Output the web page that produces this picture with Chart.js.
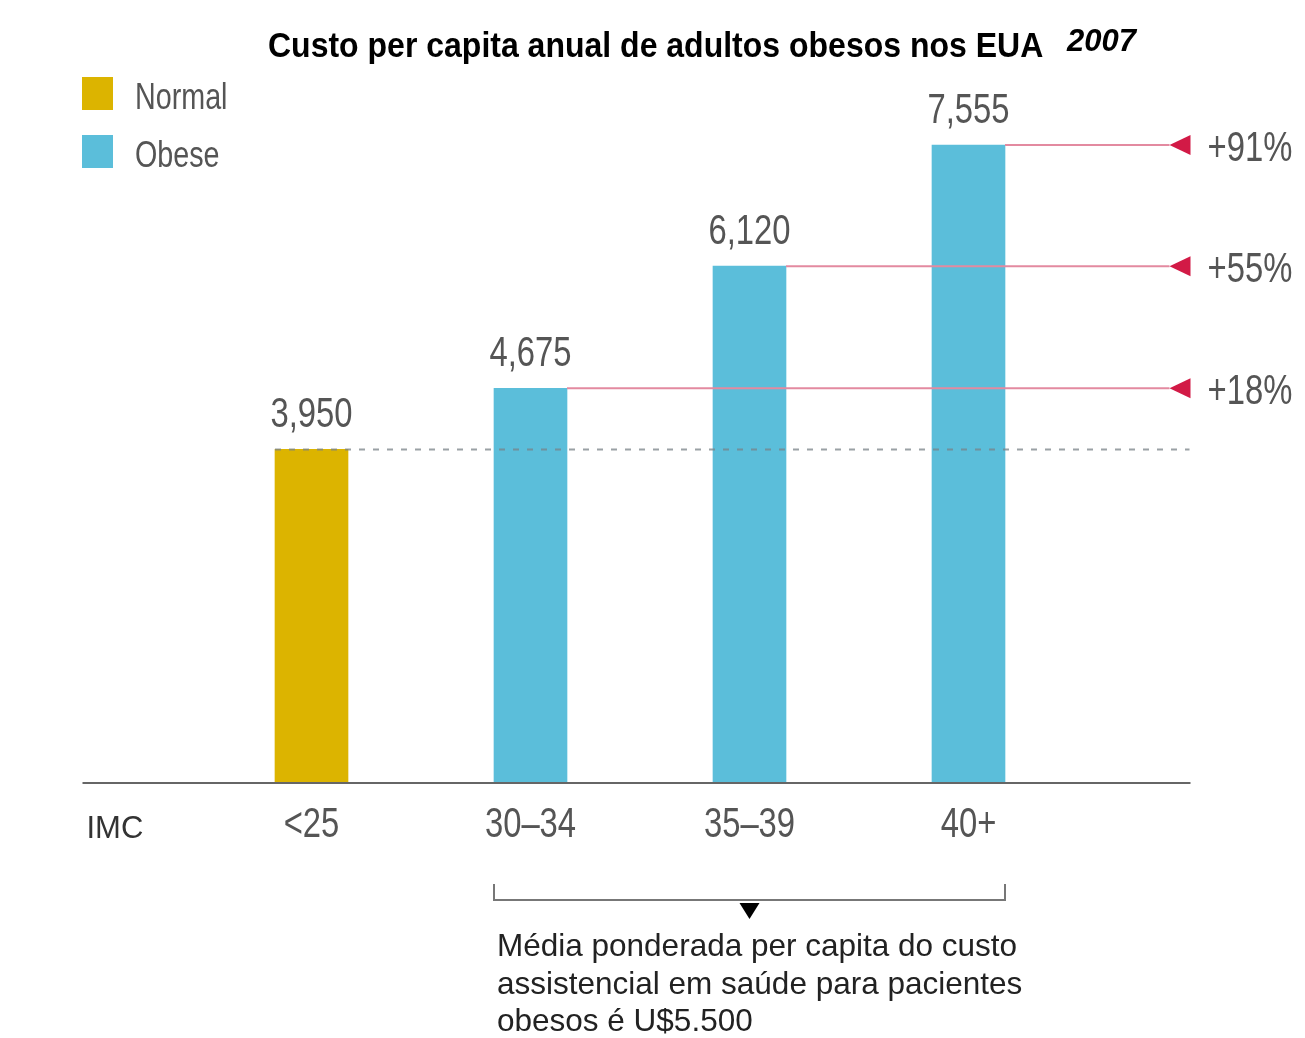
<!DOCTYPE html>
<html>
<head>
<meta charset="utf-8">
<script src="https://cdn.jsdelivr.net/npm/chart.js@4.4.1/dist/chart.umd.min.js"></script>
<style>
  html, body { margin: 0; padding: 0; background: #fff; }
</style>
</head>
<body>
<canvas id="custoChart" width="1305" height="1038"></canvas>
<script>
// Dados
const categorias = ["IMC", "<25", "30–34", "35–39", "40+", ""];
const custoNormal = [null, 3950, null, null, null, null];
const custoObeso = [null, null, 4675, 6120, 7555, null];
const legendas = ["Normal", "Obese"];
const titulo = "Custo per capita anual de adultos obesos nos EUA";
const ano = "2007";
const notaMedia = [
  "Média ponderada per capita do custo",
  "assistencial em saúde para pacientes",
  "obesos é U$5.500"
];

const corNormal = "#DCB400";
const corObeso = "#5BBEDA";
const fonte = '"Liberation Sans", Arial, sans-serif';
// fonte "condensada": Liberation Sans comprimida na horizontal
const COND_X = 0.82;
const COND_Y = 1.05;

function formatar(v) {
  return v.toLocaleString("en-US");
}

function textoCondensado(ctx, str, x, y, align) {
  ctx.save();
  ctx.translate(x, y);
  ctx.scale(COND_X, COND_Y);
  ctx.textAlign = align;
  ctx.fillText(str, 0, 0);
  ctx.restore();
}

// Desenha as anotações: linhas de referência, setas, rótulos, legenda e nota
const anotacoes = {
  id: "anotacoes",
  afterDatasetsDraw(chart) {
    const ctx = chart.ctx;
    const area = chart.chartArea;
    const x = chart.scales.x;
    const y = chart.scales.y;
    const barrasNormal = chart.getDatasetMeta(0).data;
    const barrasObeso = chart.getDatasetMeta(1).data;

    const iBase = custoNormal.findIndex(v => v !== null);
    const base = custoNormal[iBase];
    const barraBase = barrasNormal[iBase];
    const yBase = y.getPixelForValue(base);

    ctx.save();
    ctx.textBaseline = "alphabetic";

    // linha tracejada no nível do custo normal
    ctx.strokeStyle = "rgba(120,130,135,0.75)";
    ctx.lineWidth = 2;
    ctx.setLineDash([6, 8]);
    ctx.beginPath();
    ctx.moveTo(barraBase.x - barraBase.width / 2, yBase);
    ctx.lineTo(area.right + 2, yBase);
    ctx.stroke();
    ctx.setLineDash([]);

    // linhas vermelhas, setas e percentuais
    const xPonta = area.right - 18;
    custoObeso.forEach((v, i) => {
      if (v === null) return;
      const b = barrasObeso[i];
      const yy = y.getPixelForValue(v);
      ctx.strokeStyle = "#E38AA0";
      ctx.lineWidth = 2;
      ctx.beginPath();
      ctx.moveTo(b.x + b.width / 2, yy);
      ctx.lineTo(xPonta, yy);
      ctx.stroke();

      ctx.fillStyle = "#D21A46";
      ctx.beginPath();
      ctx.moveTo(xPonta, yy);
      ctx.lineTo(xPonta + 21, yy - 10);
      ctx.lineTo(xPonta + 21, yy + 10);
      ctx.closePath();
      ctx.fill();

      const pct = Math.round((v / base - 1) * 100);
      ctx.fillStyle = "#555";
      ctx.font = "40px " + fonte;
      textoCondensado(ctx, "+" + pct + "%", area.right + 20, yy + 16, "left");
    });

    // valores acima das barras
    ctx.fillStyle = "#555";
    ctx.font = "40px " + fonte;
    [[custoNormal, barrasNormal], [custoObeso, barrasObeso]].forEach(([valores, barras]) => {
      valores.forEach((v, i) => {
        if (v === null) return;
        textoCondensado(ctx, formatar(v), barras[i].x, barras[i].y - 22, "center");
      });
    });

    // linha do eixo
    ctx.strokeStyle = "#666";
    ctx.lineWidth = 2;
    ctx.beginPath();
    ctx.moveTo(area.left - 10, area.bottom);
    ctx.lineTo(area.right + 3, area.bottom);
    ctx.stroke();

    // rótulos das categorias
    ctx.fillStyle = "#555";
    ctx.font = "40px " + fonte;
    categorias.forEach((c, i) => {
      if (i === 0 || !c) return;
      textoCondensado(ctx, c, x.getPixelForValue(i), area.bottom + 54, "center");
    });
    ctx.fillStyle = "#333";
    ctx.font = "31px " + fonte;
    ctx.textAlign = "left";
    ctx.fillText(categorias[0], area.left - 6, area.bottom + 55);

    // legenda
    const cores = [corNormal, corObeso];
    legendas.forEach((nome, k) => {
      const topo = 77 + k * 58;
      ctx.fillStyle = cores[k];
      ctx.fillRect(82, topo, 31, 33);
      ctx.fillStyle = "#555";
      ctx.font = "35px " + fonte;
      textoCondensado(ctx, nome, 135, topo + 32, "left");
    });

    // título
    ctx.fillStyle = "#000";
    ctx.font = "bold 32px " + fonte;
    ctx.save();
    ctx.translate(268, 57);
    ctx.scale(1, 1.12);
    ctx.textAlign = "left";
    ctx.fillText(titulo, 0, 0);
    ctx.restore();
    ctx.font = "italic bold 31px " + fonte;
    ctx.textAlign = "left";
    ctx.fillText(ano, 1067, 51);

    // chave sob as barras dos obesos
    const obesos = custoObeso.map((v, i) => v === null ? null : barrasObeso[i]).filter(b => b);
    const xIni = obesos[0].x - obesos[0].width / 2;
    const ultimo = obesos[obesos.length - 1];
    const xFim = ultimo.x + ultimo.width / 2;
    const meio = obesos[Math.floor(obesos.length / 2)].x;
    const yChave = area.bottom + 117;
    ctx.strokeStyle = "#777";
    ctx.lineWidth = 2;
    ctx.beginPath();
    ctx.moveTo(xIni, yChave - 16);
    ctx.lineTo(xIni, yChave);
    ctx.lineTo(xFim, yChave);
    ctx.lineTo(xFim, yChave - 16);
    ctx.stroke();
    ctx.fillStyle = "#000";
    ctx.beginPath();
    ctx.moveTo(meio - 10, yChave + 3);
    ctx.lineTo(meio + 10, yChave + 3);
    ctx.lineTo(meio, yChave + 19);
    ctx.closePath();
    ctx.fill();

    // nota
    ctx.fillStyle = "#222";
    ctx.font = "31.5px " + fonte;
    ctx.textAlign = "left";
    notaMedia.forEach((linha, k) => {
      ctx.fillText(linha, xIni + 3, area.bottom + 173 + k * 37.5);
    });

    ctx.restore();
  }
};

const custoChart = new Chart(document.getElementById("custoChart").getContext("2d"), {
  type: "bar",
  data: {
    labels: categorias,
    datasets: [
      { label: legendas[0], data: custoNormal, backgroundColor: corNormal, barThickness: 73 },
      { label: legendas[1], data: custoObeso, backgroundColor: corObeso, barThickness: 73 }
    ]
  },
  options: {
    responsive: false,
    devicePixelRatio: 1,
    animation: false,
    grouped: false,
    layout: { padding: { left: 92.5, right: 117.5, top: 23, bottom: 0 } },
    plugins: {
      legend: { display: false },
      title: { display: false },
      tooltip: { enabled: false }
    },
    scales: {
      x: {
        offset: false,
        grid: { display: false, drawTicks: false },
        border: { display: false },
        ticks: { display: false },
        afterFit: function (escala) {
          escala.height = 255;
        }
      },
      y: {
        display: false,
        min: 0,
        max: 9000
      }
    }
  },
  plugins: [anotacoes]
});
</script>
</body>
</html>
